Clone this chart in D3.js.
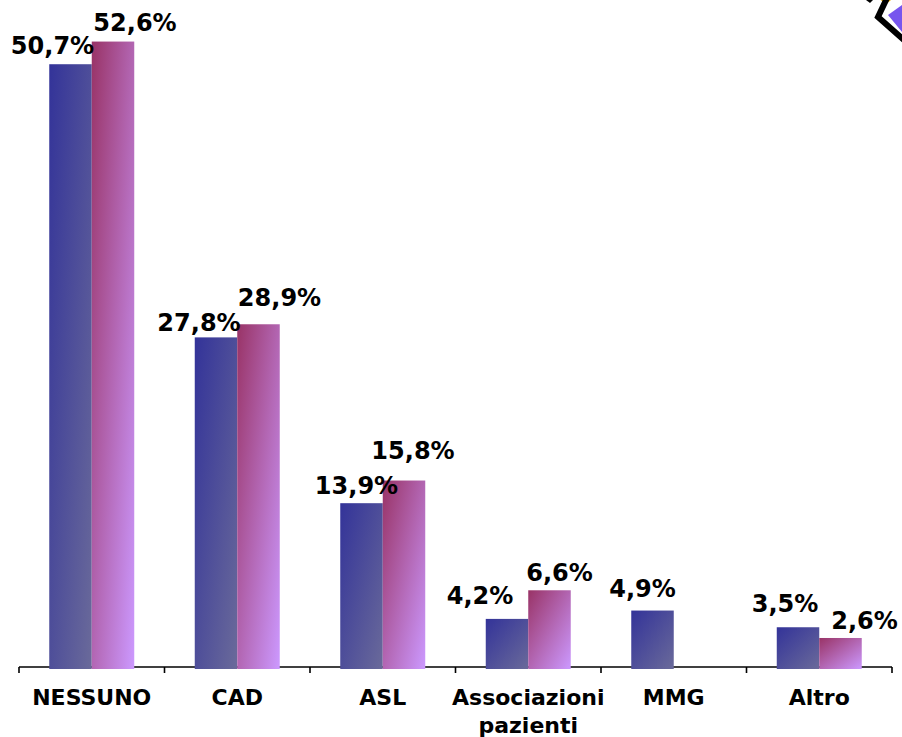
<!DOCTYPE html>
<html>
<head>
<meta charset="utf-8">
<script src="https://cdn.jsdelivr.net/npm/d3@7"></script>
<style>
html,body{margin:0;padding:0;background:#fff;}
svg{display:block;}
text{font-family:"DejaVu Sans",Verdana,sans-serif;font-weight:bold;fill:#000;}
</style>
</head>
<body>
<svg id="chart" width="902" height="737"></svg>
<script>
// ---- data ----
const categories = ["NESSUNO", "CAD", "ASL", "Associazioni\npazienti", "MMG", "Altro"];
const seriesA = [50.7, 27.8, 13.9, 4.2, 4.9, 3.5];
const seriesB = [52.6, 28.9, 15.8, 6.6, null, 2.6];
const labelsA = ["50,7%", "27,8%", "13,9%", "4,2%", "4,9%", "3,5%"];
const labelsB = ["52,6%", "28,9%", "15,8%", "6,6%", "", "2,6%"];

// ---- label nudges (layout, not data) ----
const nudgeA = [[-18,-10],[-17,-6],[-5,-9],[-27,-15],[-10,-14],[-13,-15]];
const nudgeB = [[22,-11],[21,-18],[9,-22],[10,-9],[0,0],[24,-9]];

const svg = d3.select("#chart");

// gradients
const defs = svg.append("defs");
function grad(id, c0, c1){
  const g = defs.append("linearGradient").attr("id", id)
    .attr("x1",0).attr("y1",0).attr("x2",1).attr("y2",1);
  g.append("stop").attr("offset","0%").attr("stop-color",c0);
  g.append("stop").attr("offset","100%").attr("stop-color",c1);
}
grad("gA", "#333399", "#6a6a9a");
grad("gB", "#993366", "#cc99ff");

const x = d3.scaleBand().domain(categories).range([19, 892]).paddingInner(0).paddingOuter(0);
const xs = d3.scaleBand().domain(["A","B"]).range([0, x.bandwidth()]).paddingInner(0).paddingOuter(0.712);
const y = d3.scaleLinear().domain([0, 56]).range([669, 1]);

// axis
const axis = d3.axisBottom(x).tickSize(0).tickFormat("");
const ax = svg.append("g").attr("transform","translate(0,667)").call(axis);
ax.select(".domain").remove();
ax.append("line").attr("x1",19).attr("x2",892).attr("y1",0).attr("y2",0)
  .attr("stroke","#000").attr("stroke-width",1.6);
const bounds = categories.map(c => x(c)).concat([x(categories[categories.length-1]) + x.bandwidth()]);
ax.selectAll("line.tk").data(bounds).enter().append("line").attr("class","tk")
  .attr("x1",d=>d).attr("x2",d=>d).attr("y1",0).attr("y2",6)
  .attr("stroke","#000").attr("stroke-width",1.6);

// category labels
const cl = svg.append("g");
categories.forEach(c => {
  const lines = c.split("\n");
  const t = cl.append("text").attr("x", x(c) + x.bandwidth()/2).attr("y", 705)
    .attr("text-anchor","middle").style("font-size","22px");
  lines.forEach((ln,i) => t.append("tspan").attr("x", x(c) + x.bandwidth()/2).attr("dy", i===0?0:28).text(ln));
});

// bars
const rows = categories.map((c,i) => ({c, a: seriesA[i], b: seriesB[i], la: labelsA[i], lb: labelsB[i], na: nudgeA[i], nb: nudgeB[i]}));
const g = svg.append("g");
rows.forEach(r => {
  if (r.a != null) {
    g.append("rect").attr("x", x(r.c)+xs("A")).attr("width", xs.bandwidth())
      .attr("y", y(r.a)).attr("height", y(0)-y(r.a)).attr("fill","url(#gA)");
  }
  if (r.b != null) {
    g.append("rect").attr("x", x(r.c)+xs("B")).attr("width", xs.bandwidth())
      .attr("y", y(r.b)).attr("height", y(0)-y(r.b)).attr("fill","url(#gB)");
  }
});
rows.forEach(r => {
  if (r.a != null) {
    g.append("text").attr("x", x(r.c)+xs("A")+xs.bandwidth()/2 + r.na[0]).attr("y", y(r.a)+r.na[1])
      .attr("text-anchor","middle").style("font-size","24px").text(r.la);
  }
  if (r.b != null) {
    g.append("text").attr("x", x(r.c)+xs("B")+xs.bandwidth()/2 + r.nb[0]).attr("y", y(r.b)+r.nb[1])
      .attr("text-anchor","middle").style("font-size","24px").text(r.lb);
  }
});

// logo fragment top-right
const logo = svg.append("g");
logo.append("path").attr("d","M881,0 L891,0 L885,5 Z").attr("fill","#f0b000");
logo.append("path").attr("d","M866,0 L873,0 L870,3 Z").attr("fill","#000");
logo.append("path").attr("d","M888,15 L902,5 L902,32 Z").attr("fill","#7755ee");
logo.append("path").attr("d","M887,-2 L878,17 L904,40").attr("fill","none").attr("stroke","#000").attr("stroke-width",6);
</script>
</body>
</html>
